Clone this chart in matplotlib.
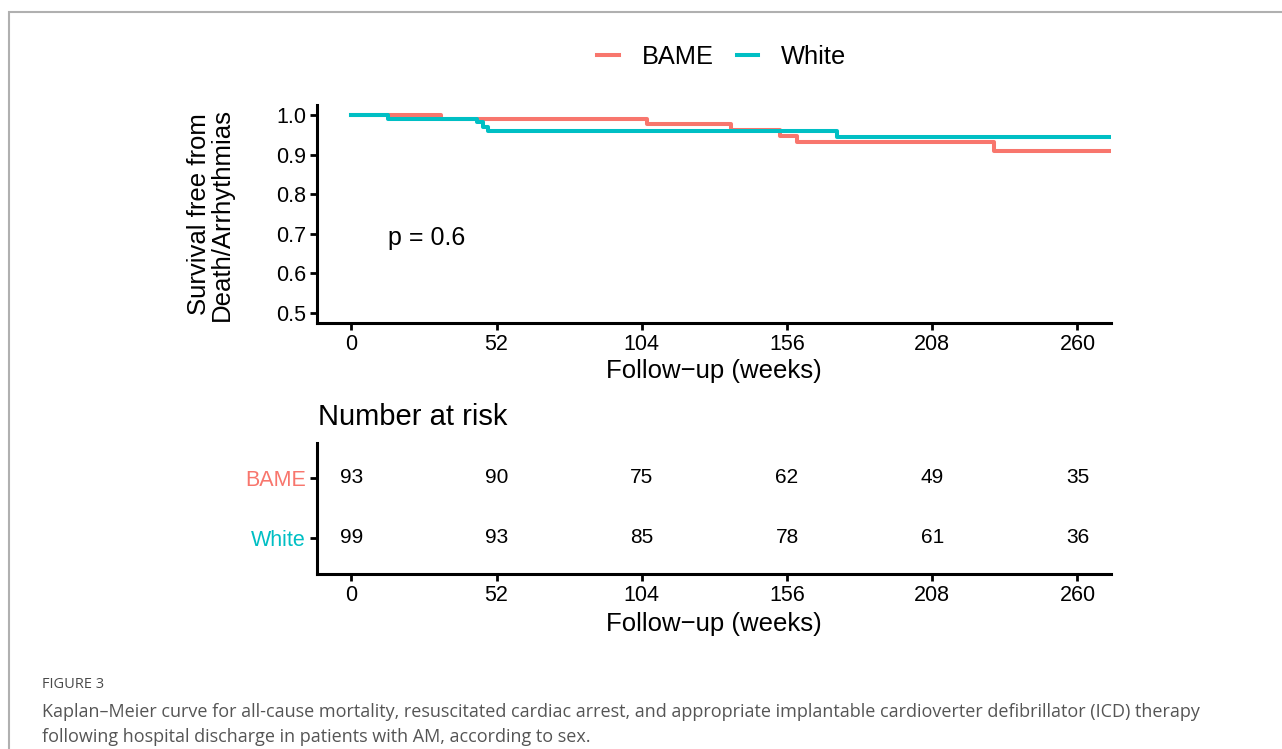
import matplotlib
matplotlib.use("Agg")
import matplotlib.pyplot as plt
from matplotlib.patches import Rectangle

plt.rcParams['font.family'] = ['Liberation Sans', 'DejaVu Sans']

# Data
groups = ['BAME', 'White']
colors = {'BAME': '#F8766D', 'White': '#00BFC4'}

bame_weeks = [0, 32, 106, 136, 153.5, 159.6, 230, 272]
bame_surv = [1.0, 0.99, 0.976, 0.963, 0.947, 0.932, 0.909, 0.909]

white_weeks = [0, 13, 45, 47, 48.8, 174, 272]
white_surv = [1.0, 0.99, 0.983, 0.97, 0.96, 0.945, 0.945]

risk_times = [0, 52, 104, 156, 208, 260]
bame_risk = [93, 90, 75, 62, 49, 35]
white_risk = [99, 93, 85, 78, 61, 36]

y_ticks = [0.5, 0.6, 0.7, 0.8, 0.9, 1.0]

W, H = 1282, 749
fig = plt.figure(figsize=(W / 100, H / 100), dpi=100)

def fx(px):
    return px / W

def fy(px):
    return 1 - px / H

# Outer frame
fig.patches.append(Rectangle((fx(9), -0.1), 1.2, fy(12) + 0.1, transform=fig.transFigure,
                             fill=False, edgecolor='#b0b0b0', lw=1.5))

def style_axes(ax):
    for side in ['top', 'right']:
        ax.spines[side].set_visible(False)
    for side in ['left', 'bottom']:
        ax.spines[side].set_linewidth(2.2)
    ax.tick_params(width=2, length=5, labelsize=15.5, colors='black', pad=3)

# Survival curves
ax = fig.add_axes([fx(317), fy(323), fx(1111 - 317), (323 - 105) / H])
ax.step(bame_weeks, bame_surv, where='post', color=colors['BAME'], lw=2.9, label='BAME')
ax.step(white_weeks, white_surv, where='post', color=colors['White'], lw=2.9, label='White')
ax.set_xlim(-12.3, 272)
ax.set_ylim(0.475, 1.025)
ax.set_xticks(risk_times)
ax.set_yticks(y_ticks)
ax.set_yticklabels(['%.1f' % v for v in y_ticks])
style_axes(ax)
ax.set_xlabel('Follow\u2212up (weeks)', fontsize=18.5, labelpad=3)
ax.set_ylabel('Survival free from\nDeath/Arrhythmias', fontsize=18.5, labelpad=30, linespacing=0.95)
ax.text(13, 0.69, 'p = 0.6', fontsize=18, va='center', ha='left')

fig.legend(loc='center', bbox_to_anchor=(fx(722), fy(57)), ncol=2, frameon=False,
           fontsize=18.3, handlelength=0.85, handletextpad=0.9, columnspacing=0.9)

# Number at risk table
tab = fig.add_axes([fx(317), fy(574), fx(1111 - 317), (574 - 443) / H])
for x, n in zip(risk_times, bame_risk):
    tab.text(x, 2, str(n), ha='center', va='center', fontsize=15)
for x, n in zip(risk_times, white_risk):
    tab.text(x, 1, str(n), ha='center', va='center', fontsize=15)
tab.set_xlim(-12.3, 272)
tab.set_ylim(0.4, 2.58)
tab.set_xticks(risk_times)
tab.set_yticks([2, 1])
tab.set_yticklabels(groups)
style_axes(tab)
for lbl, g in zip(tab.get_yticklabels(), groups):
    lbl.set_color(colors[g])
tab.set_xlabel('Follow\u2212up (weeks)', fontsize=18.5, labelpad=4)
fig.text(fx(318), fy(417), 'Number at risk', fontsize=21, ha='left', va='center')

# Caption
fig.text(fx(42), fy(684), 'FIGURE 3', fontsize=10.5, color='#4a4a4a', ha='left', va='center',
         family=['Open Sans', 'DejaVu Sans'])
fig.text(fx(42), fy(724.5),
         'Kaplan\u2013Meier curve for all-cause mortality, resuscitated cardiac arrest, and appropriate '
         'implantable cardioverter defibrillator (ICD) therapy\n'
         'following hospital discharge in patients with AM, according to sex.',
         fontsize=13, color='#555555', ha='left', va='center', linespacing=1.45,
         family=['Open Sans', 'DejaVu Sans'])

fig.savefig('out.png', dpi=100)
